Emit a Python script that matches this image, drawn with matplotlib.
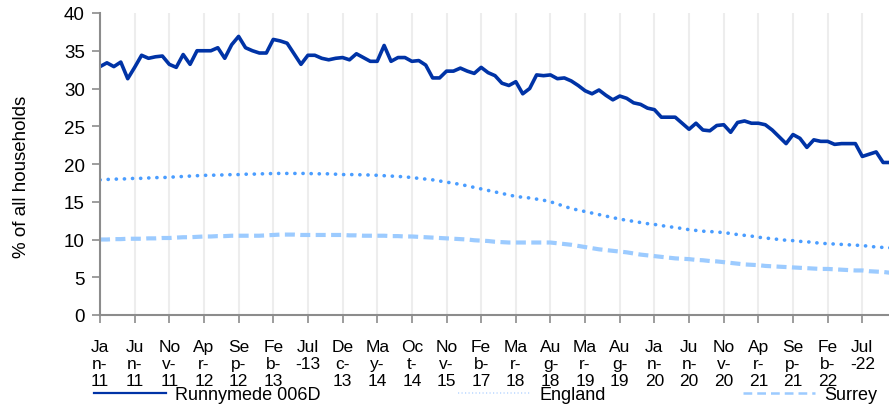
import numpy as np
import matplotlib
matplotlib.use("Agg")
import matplotlib.pyplot as plt
from matplotlib.lines import Line2D

plt.rcParams['font.family'] = ['Liberation Sans', 'DejaVu Sans']

# Runnymede 006D, % of all households
runnymede = [32.9, 33.4, 32.9, 33.5, 31.3, 32.8, 34.4, 34.0, 34.2, 34.3,
             33.2, 32.8, 34.5, 33.2, 35.0, 35.0, 35.0, 35.4, 34.0, 35.8,
             36.9, 35.4, 35.0, 34.7, 34.7, 36.5, 36.3, 36.0, 34.6, 33.2,
             34.4, 34.4, 34.0, 33.8, 34.0, 34.1, 33.8, 34.6, 34.1, 33.6,
             33.6, 35.7, 33.6, 34.1, 34.1, 33.6, 33.7, 33.1, 31.4, 31.4,
             32.3, 32.3, 32.7, 32.3, 32.0, 32.8, 32.1, 31.7, 30.7, 30.4,
             30.9, 29.3, 30.0, 31.8, 31.7, 31.8, 31.3, 31.4, 31.0, 30.4,
             29.7, 29.3, 29.8, 29.1, 28.5, 29.0, 28.7, 28.1, 27.9, 27.4,
             27.2, 26.2, 26.2, 26.2, 25.4, 24.6, 25.4, 24.5, 24.4, 25.1,
             25.2, 24.2, 25.5, 25.7, 25.4, 25.4, 25.2, 24.5, 23.6, 22.7,
             23.9, 23.4, 22.2, 23.2, 23.0, 23.0, 22.6, 22.7, 22.7, 22.7,
             21.0, 21.3, 21.6, 20.2, 20.2]

england = [17.9, 17.95, 18.0, 18.0, 18.05, 18.1, 18.1, 18.15, 18.2, 18.2,
           18.25, 18.3, 18.35, 18.4, 18.45, 18.5, 18.5, 18.55, 18.55, 18.6,
           18.6, 18.65, 18.65, 18.7, 18.7, 18.75, 18.75, 18.75, 18.75, 18.75,
           18.75, 18.7, 18.7, 18.7, 18.65, 18.6, 18.6, 18.6, 18.55, 18.55,
           18.5, 18.45, 18.4, 18.35, 18.3, 18.2, 18.1, 18.0, 17.9, 17.75,
           17.6, 17.45, 17.3, 17.1, 16.9, 16.7, 16.5, 16.3, 16.1, 15.9,
           15.7, 15.6, 15.5, 15.35, 15.2, 15.0, 14.7, 14.4, 14.1, 13.9,
           13.7, 13.5, 13.3, 13.1, 12.9, 12.7, 12.55, 12.4, 12.25, 12.1,
           12.0, 11.85, 11.7, 11.6, 11.45, 11.3, 11.2, 11.1, 11.05, 11.0,
           10.9, 10.8, 10.65, 10.55, 10.45, 10.3, 10.2, 10.1, 10.0, 9.9,
           9.85, 9.75, 9.7, 9.6, 9.5, 9.45, 9.4, 9.35, 9.3, 9.25,
           9.2, 9.1, 9.0, 8.95, 8.9]

surrey = [10.0, 10.0, 10.05, 10.05, 10.1, 10.1, 10.1, 10.15, 10.15, 10.2,
          10.2, 10.25, 10.3, 10.3, 10.35, 10.4, 10.4, 10.45, 10.45, 10.5,
          10.5, 10.5, 10.5, 10.5, 10.55, 10.6, 10.65, 10.65, 10.65, 10.6,
          10.6, 10.6, 10.6, 10.6, 10.6, 10.6, 10.55, 10.55, 10.5, 10.5,
          10.5, 10.5, 10.45, 10.45, 10.4, 10.4, 10.35, 10.3, 10.25, 10.2,
          10.15, 10.1, 10.05, 10.0, 9.9, 9.85, 9.8, 9.7, 9.65, 9.6,
          9.6, 9.6, 9.6, 9.6, 9.6, 9.6, 9.5, 9.4, 9.3, 9.15,
          9.0, 8.85, 8.7, 8.6, 8.5, 8.4, 8.3, 8.15, 8.0, 7.9,
          7.8, 7.7, 7.6, 7.5, 7.45, 7.4, 7.3, 7.25, 7.15, 7.1,
          7.0, 6.9, 6.8, 6.7, 6.65, 6.6, 6.5, 6.45, 6.4, 6.35,
          6.3, 6.25, 6.2, 6.15, 6.1, 6.1, 6.05, 6.0, 5.95, 5.9,
          5.9, 5.8, 5.75, 5.7, 5.6]

tick_labels = ["Ja\nn-\n11", "Ju\nn-\n11", "No\nv-\n11", "Ap\nr-\n12", "Se\np-\n12",
               "Fe\nb-\n13", "Jul\n-13", "De\nc-\n13", "Ma\ny-\n14", "Oc\nt-\n14",
               "No\nv-\n15", "Fe\nb-\n17", "Ma\nr-\n18", "Au\ng-\n18", "Ma\nr-\n19",
               "Au\ng-\n19", "Ja\nn-\n20", "Ju\nn-\n20", "No\nv-\n20", "Ap\nr-\n21",
               "Se\np-\n21", "Fe\nb-\n22", "Jul\n-22"]

c_run = '#0033a6'
c_eng = '#4a9dff'
c_sur = '#9ccbff'

fig = plt.figure(figsize=(8.89, 4.10), dpi=100)
ax = fig.add_axes([100 / 889, 1 - 316 / 410, 789 / 889, 302 / 410])

x = np.arange(len(runnymede))
ax.plot(x, surrey, color=c_sur, lw=3.0, linestyle=(0, (2.4, 1.3)))
ax.plot(x, england, color=c_eng, lw=2.6, linestyle=(0, (0.05, 2.2)), dash_capstyle='round')
ax.plot(x, runnymede, color=c_run, lw=2.6, solid_joinstyle='round')

ax.set_ylim(0, 40)
ax.set_yticks(range(0, 41, 5))
ax.set_xlim(0, 113.85)
ax.set_xticks(np.arange(0, len(tick_labels) * 5, 5))
ax.set_xticklabels(tick_labels, linespacing=1.17)
ax.tick_params(axis='both', colors='#000000', length=6, width=1.2)
ax.tick_params(axis='x', pad=11.5, color='#8c8c8c', labelsize=12.5)
ax.tick_params(axis='y', pad=5, color='#8c8c8c', labelsize=13.5)
ax.grid(axis='x', color='#ededed', lw=1.5)
ax.set_axisbelow(True)

for s in ['top', 'right']:
    ax.spines[s].set_visible(False)
for s in ['left', 'bottom']:
    ax.spines[s].set_color('#8c8c8c')
    ax.spines[s].set_linewidth(1.5)

ax.set_ylabel('% of all households', fontsize=13.5)
ax.yaxis.set_label_coords(-0.089, 0.46)

handles = [Line2D([], [], color=c_run, lw=1.6),
           Line2D([], [], color='#c8e0ff', lw=1.4, linestyle=(0, (0.6, 1.2))),
           Line2D([], [], color=c_sur, lw=1.8, linestyle=(0, (3.5, 2)))]
fig.legend(handles, ['Runnymede 006D', 'England', 'Surrey'], loc='center',
           bbox_to_anchor=(0.546, 1 - 396 / 410), ncol=3, frameon=False,
           fontsize=13, handlelength=4.0, handletextpad=0.5, columnspacing=7.6,
           borderpad=0, borderaxespad=0)

fig.savefig('out.png', dpi=100)
